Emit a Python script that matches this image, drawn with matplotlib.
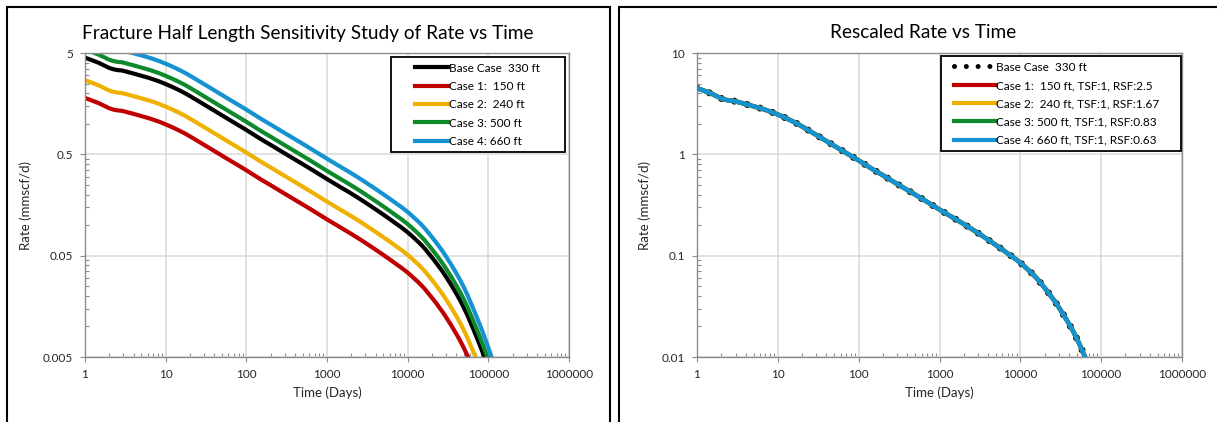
import numpy as np
import matplotlib.pyplot as plt
from matplotlib.ticker import FixedLocator, FixedFormatter, NullFormatter
from matplotlib.patches import Rectangle, PathPatch
from matplotlib.path import Path
from matplotlib.lines import Line2D
from matplotlib.legend_handler import HandlerLine2D

plt.rcParams['font.family'] = ['Lato', 'DejaVu Sans']

# Base case production profile (fracture half length 330 ft)
days = [1, 1.5, 2, 2.5, 3, 5, 7, 10, 15, 20, 30, 40, 60, 100, 150, 200, 300,
        500, 700, 1000, 1500, 2000, 3000, 5000, 7000, 10000, 15000, 20000,
        25000, 30000, 40000, 50000, 60000, 70000, 80000, 90000, 100000,
        110000, 120000]
base_rate = [4.5, 3.98, 3.56, 3.4, 3.33, 2.98, 2.75, 2.47, 2.13, 1.88, 1.55,
             1.35, 1.11, 0.87, 0.71, 0.62, 0.51, 0.4, 0.34, 0.285, 0.235,
             0.205, 0.167, 0.127, 0.105, 0.085, 0.063, 0.048, 0.038, 0.0308,
             0.0212, 0.0152, 0.0110, 0.0082, 0.0063, 0.0049, 0.0039, 0.0031,
             0.0025]

# Sensitivity cases: half length with time / rate scale factors
case_labels = ["Case 1:  150 ft", "Case 2:  240 ft", "Case 3: 500 ft", "Case 4: 660 ft"]
case_labels_rescaled = ["Case 1:  150 ft, TSF:1, RSF:2.5",
                        "Case 2:  240 ft, TSF:1, RSF:1.67",
                        "Case 3: 500 ft, TSF:1, RSF:0.83",
                        "Case 4: 660 ft, TSF:1, RSF:0.63"]
tsf = [1, 1, 1, 1]
rsf = [2.5, 1.67, 0.83, 0.63]
case_colors = ["#C00000", "#F0B000", "#0E8A2C", "#1592D2"]
base_label = "Base Case  330 ft"

x_ticks = [1, 10, 100, 1000, 10000, 100000, 1000000]
x_ticklabels = ["1", "10", "100", "1000", "10000", "100000", "1000000"]
y_ticks_left = [0.005, 0.05, 0.5, 5]
y_ticklabels_left = ["0.005", "0.05", "0.5", "5"]
y_ticks_right = [0.01, 0.1, 1, 10]
y_ticklabels_right = ["0.01", "0.1", "1", "10"]

W, H = 1217, 422
fig = plt.figure(figsize=(W / 100, H / 100), dpi=100)

def fx(px):
    return px / W

def fy(py):
    return 1 - py / H

SPINE = "#8c8c8c"
GRID = "#d9d9d9"
TEXT = "#262626"

def smooth_path(x, y):
    """Smoothed (Catmull-Rom style) Bezier path through the points in log-log space."""
    P = np.column_stack([np.log10(x), np.log10(y)])
    n = len(P)
    verts = [P[0]]
    codes = [Path.MOVETO]
    for i in range(n - 1):
        p0 = P[i - 1] if i > 0 else P[i]
        p1, p2 = P[i], P[i + 1]
        p3 = P[i + 2] if i + 2 < n else P[i + 1]
        verts += [p1 + (p2 - p0) / 6, p2 - (p3 - p1) / 6, p2]
        codes += [Path.CURVE4] * 3
    return Path(10 ** np.array(verts), codes)

def style_axes(ax, yticks, ylabels):
    ax.set_xscale("log")
    ax.set_yscale("log")
    ax.set_xlim(x_ticks[0], x_ticks[-1])
    ax.set_ylim(yticks[0], yticks[-1])
    ax.xaxis.set_major_locator(FixedLocator(x_ticks))
    ax.xaxis.set_major_formatter(FixedFormatter(x_ticklabels))
    xminor = [d * k for d in x_ticks[:-1] for k in range(2, 10)]
    ax.xaxis.set_minor_locator(FixedLocator(xminor))
    ax.xaxis.set_minor_formatter(NullFormatter())
    ax.yaxis.set_major_locator(FixedLocator(yticks))
    ax.yaxis.set_major_formatter(FixedFormatter(ylabels))
    yminor = [d * k for d in yticks[:-1] for k in range(2, 10)]
    ax.yaxis.set_minor_locator(FixedLocator(yminor))
    ax.yaxis.set_minor_formatter(NullFormatter())
    ax.grid(True, which="major", color=GRID, lw=1.1)
    ax.set_axisbelow(True)
    for s in ax.spines.values():
        s.set_color(SPINE)
        s.set_linewidth(1.0)
    ax.tick_params(which="major", direction="out", length=3.5, width=0.8,
                   color=SPINE, labelsize=8.5, labelcolor=TEXT, pad=5)
    ax.tick_params(which="minor", direction="in", length=3, width=0.8, color=SPINE)
    ax.set_xlabel("Time (Days)", fontsize=9.5, color=TEXT, labelpad=5)
    ax.set_ylabel("Rate (mmscf/d)", fontsize=9.5, color=TEXT, labelpad=8)

def add_curve(ax, x, y, **kw):
    patch = PathPatch(smooth_path(x, y), fill=False, capstyle="round",
                      joinstyle="round", **kw)
    ax.add_patch(patch)
    return patch

def boxed_legend(ax, handles, labels, box, xpad, handlelength):
    """Legend entries placed inside a fixed box (x0, y0, x1, y1 in figure pixels)."""
    x0, y0, x1, y1 = box
    ax.add_patch(Rectangle((fx(x0), fy(y1)), fx(x1 - x0), (y1 - y0) / H,
                           transform=fig.transFigure, facecolor="white",
                           edgecolor="black", lw=1.3, zorder=4.9, clip_on=False))
    leg = ax.legend(handles, labels, loc="upper left",
                    bbox_to_anchor=(fx(x0), fy(y0 + 1.5)),
                    bbox_transform=fig.transFigure, fontsize=8.5,
                    handlelength=handlelength, handletextpad=0.05,
                    labelspacing=0.62, borderpad=0.35, borderaxespad=0,
                    frameon=False,
                    handler_map={Line2D: HandlerLine2D(xpad=xpad)})
    leg.set_zorder(5)
    return leg

base = np.array(base_rate)
t = np.array(days, dtype=float)
LW = 3.0

# Left panel: raw rate for each half length
ax1 = fig.add_axes([fx(85), fy(357), fx(484), 304 / H])
style_axes(ax1, y_ticks_left, y_ticklabels_left)
add_curve(ax1, t, base, edgecolor="black", lw=LW, zorder=2)
for f, c in zip(rsf, case_colors):
    add_curve(ax1, t, base / f, edgecolor=c, lw=LW, zorder=2)
h1 = [Line2D([], [], color="black", lw=LW)] + \
     [Line2D([], [], color=c, lw=LW) for c in case_colors]
boxed_legend(ax1, h1, [base_label] + case_labels, (391, 57, 565, 152),
             xpad=1.7, handlelength=4.5)
fig.text(fx(308), fy(33), "Fracture Half Length Sensitivity Study of Rate vs Time",
         ha="center", va="center", fontsize=13.7, color="black")

# Right panel: each case rescaled back by its time and rate scale factors
ax2 = fig.add_axes([fx(697), fy(357), fx(485), 304 / H])
style_axes(ax2, y_ticks_right, y_ticklabels_right)
add_curve(ax2, t, base, edgecolor="black", lw=5.0, linestyle=(0, (0.01, 1.9)),
          zorder=2)
for f, ts, c in zip(rsf, tsf, case_colors):
    add_curve(ax2, t * ts, (base / f) * f, edgecolor=c, lw=3.2, zorder=3)
h2 = [Line2D([], [], color="black", lw=3.6, linestyle=(0, (0.01, 2.35)),
             dash_capstyle="round")] + \
     [Line2D([], [], color=c, lw=LW) for c in case_colors]
boxed_legend(ax2, h2, [base_label] + case_labels_rescaled, (941, 56, 1181, 151),
             xpad=0.76, handlelength=4.3)
fig.text(fx(923), fy(33), "Rescaled Rate vs Time",
         ha="center", va="center", fontsize=13.7, color="black")

# Panel frames
for x0, x1 in [(7, 610), (619, 1227)]:
    fig.add_artist(Rectangle((fx(x0), -0.1), fx(x1 - x0), fy(7) + 0.1,
                             transform=fig.transFigure, fill=False,
                             edgecolor="black", lw=1.5))

fig.savefig("out.png", dpi=100)
